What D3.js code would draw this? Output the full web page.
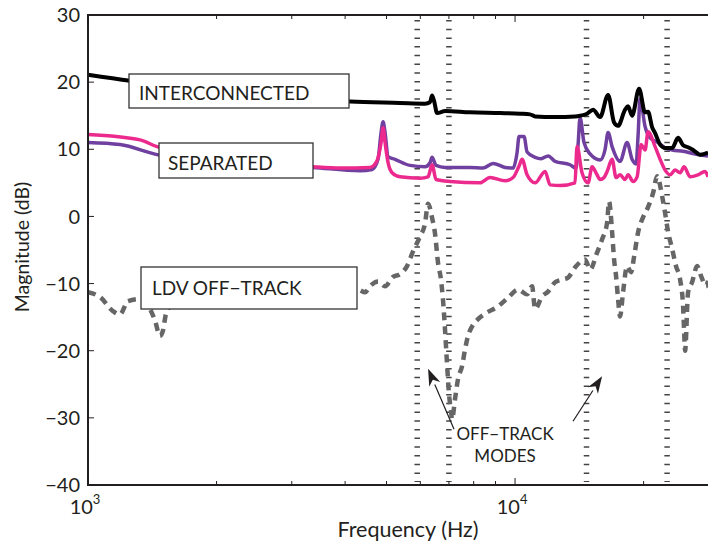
<!DOCTYPE html>
<html>
<head>
<meta charset="utf-8">
<title>Magnitude - frequency</title>
<script src="https://cdn.jsdelivr.net/npm/d3@7/dist/d3.min.js"></script>
<style>
    body { margin:0; background-color:#fff; }
    text { font-family: Lato, 'Open Sans', sans-serif; fill:#231f20; }
</style>
</head>
<body>
<svg id="svg" width="708" height="546"></svg>
<script>

// [frequency Hz, magnitude dB]
var interconnected = [
    [1000,21.1],[1254,20.2],[1829,19.0],[2668,17.9],[4108,17.1],[5379,16.9],[6156,16.8],[6322,17.0],
    [6392,18.0],[6462,17.2],[6567,15.4],[6857,15.7],[7845,15.5],[9223,15.4],[10273,15.3],[10842,15.2],
    [11140,14.9],[12410,14.8],[13816,14.9],[14198,15.0],[14746,15.3],[15230,15.9],[15817,14.8],[16513,18.1],
    [17056,14.0],[17427,13.5],[18097,15.9],[18391,16.4],[18793,15.0],[19517,19.0],[20156,15.5],[20486,15.6],
    [20932,13.3],[21277,12.4],[21861,10.7],[22458,10.2],[23320,10.2],[24085,11.7],[24744,10.6],[25420,10.3],
    [26120,9.9],[27130,9.2],[28310,9.5]
];
var separatedA = [
    [1000,11.0],[1188,10.7],[1451,9.2],[2151,8.0],[3365,7.3],[4335,6.8],[4627,7.0],[4777,8.5],[4856,12.5],
    [4909,14.1],[4961,12.5],[5043,8.9],[5236,8.5],[5678,7.6],[6156,7.4],[6322,8.0],[6392,8.8],[6531,7.6],
    [6857,7.3],[7845,7.3],[8416,7.2],[8881,7.9],[9475,7.3],[9893,7.2],[10108,9.5],[10218,11.9],[10498,11.9],
    [10669,9.6],[11140,8.8],[11506,8.6],[11949,9.0],[12410,8.2],[13451,7.7],[13892,7.2],[14040,10.5],
    [14198,14.7],[14503,11.0],[14983,9.3],[15817,8.4],[16250,10.0],[16513,12.5],[16874,10.4],[17616,8.2],
    [18294,11.0],[18793,8.5],[19205,7.8],[19410,12.0],[19622,17.5],[20156,13.4],[20716,11.7],[21627,11.0],
    [22458,10.2],[23320,9.9],[24744,9.7],[26400,9.3],[28310,9.0]
];
var separatedB = [
    [1000,12.2],[1324,11.4],[1451,10.4],[2151,8.8],[3365,7.4],[3893,7.2],[4575,7.3],[4751,8.3],[4856,11.0],
    [4909,13.2],[4961,11.0],[5043,8.0],[5152,6.5],[5379,5.9],[5991,5.7],[6256,5.9],[6392,7.7],[6531,5.5],
    [7043,5.2],[8279,5.0],[8740,5.8],[9475,5.3],[9893,5.8],[10218,7.5],[10385,8.5],[10669,6.2],[11140,5.0],
    [11757,6.7],[12078,4.7],[12748,4.6],[13816,5.0],[13966,10.4],[14350,6.5],[14825,5.0],[15147,7.4],
    [15560,6.2],[15817,5.5],[16160,5.8],[16427,6.7],[16874,8.5],[17240,5.8],[17616,6.2],[18097,5.5],
    [18391,6.2],[18897,5.2],[19310,5.9],[19733,10.7],[20156,9.9],[20486,12.6],[21277,10.4],[21861,8.5],
    [22458,6.9],[23070,6.2],[23700,6.9],[24350,6.5],[24880,7.4],[25700,5.9],[26830,6.2],[27860,6.7],[28310,5.9]
];
var ldvOffTrack = [
    [1000,-11.3],[1067,-12.0],[1144,-14.1],[1188,-14.6],[1241,-12.6],[1324,-12.3],[1397,-13.8],[1435,-15.5],
    [1474,-17.8],[1498,-17.0],[1523,-14.5],[1573,-13.2],[1829,-12.3],[2395,-12.0],[3137,-11.5],[3893,-11.0],
    [4289,-10.9],[4455,-11.3],[4575,-10.4],[4777,-9.7],[4961,-10.4],[5180,-9.0],[5379,-8.6],[5586,-7.4],
    [5769,-5.2],[5991,-3.0],[6156,-1.0],[6256,1.9],[6392,-0.2],[6496,-2.6],[6601,-6.9],[6710,-9.5],
    [6782,-12.5],[6857,-17.0],[6930,-22.0],[7005,-26.5],[7081,-29.0],[7120,-30.2],[7235,-27.2],[7353,-24.2],
    [7513,-22.3],[7636,-19.8],[7760,-17.8],[7930,-16.4],[8190,-15.3],[8600,-14.3],[9075,-13.5],[9630,-12.1],
    [10162,-10.9],[10669,-11.6],[10960,-10.4],[11140,-13.8],[11567,-11.9],[11949,-11.2],[12410,-9.8],
    [12885,-9.4],[13308,-9.1],[13816,-7.6],[14583,-6.4],[14983,-7.9],[15560,-5.4],[15990,-3.4],[16427,-0.9],
    [16600,2.2],[16874,-2.3],[17056,-6.4],[17240,-8.9],[17427,-12.3],[17616,-14.9],[17900,-11.3],[18294,-7.4],
    [18697,-8.3],[18998,-6.0],[19410,-2.4],[19946,-0.1],[20486,1.4],[21050,3.5],[21510,6.0],[22100,3.0],
    [22458,0.5],[22820,-2.3],[23320,-4.8],[23820,-7.4],[24350,-9.4],[24744,-13.4],[24880,-17.0],[25010,-20.0],
    [25420,-11.3],[25970,-9.8],[26690,-7.4],[27270,-8.9],[28010,-10.4],[28310,-9.6]
];
var modeLines = [5900, 7000, 14700, 22700];
var yTicks = [30, 20, 10, 0, -10, -20, -30, -40];
var xMajor = [1000, 10000];
var xMinor = [2000,3000,4000,5000,6000,7000,8000,9000,20000];

var x = d3.scaleLog().domain([1000, 28300]).range([88, 708]);
var y = d3.scaleLinear().domain([-40, 30]).range([485, 15]);

var svg = d3.select('#svg');

// mode markers
svg.selectAll('line.mode').data(modeLines).enter().append('line')
    .attr('class', 'mode')
    .attr('x1', function(d){ return x(d); }).attr('x2', function(d){ return x(d); })
    .attr('y1', 20).attr('y2', 482)
    .attr('stroke', '#444').attr('stroke-width', 5.5)
    .attr('stroke-dasharray', '1.5,7.2');

var line = d3.line()
    .curve(d3.curveMonotoneX)
    .x(function(d){ return x(d[0]); })
    .y(function(d){ return y(d[1]); });

svg.append('path').datum(ldvOffTrack).attr('d', line)
    .attr('fill', 'none').attr('stroke', '#666').attr('stroke-width', 4.5)
    .attr('stroke-dasharray', '8,6');
svg.append('path').datum(separatedA).attr('d', line)
    .attr('fill', 'none').attr('stroke', '#7040a0').attr('stroke-width', 3.5)
    .attr('stroke-linejoin', 'round');
svg.append('path').datum(separatedB).attr('d', line)
    .attr('fill', 'none').attr('stroke', '#ec2a8e').attr('stroke-width', 3.5)
    .attr('stroke-linejoin', 'round');
svg.append('path').datum(interconnected).attr('d', line)
    .attr('fill', 'none').attr('stroke', '#000').attr('stroke-width', 4)
    .attr('stroke-linejoin', 'round');

// frame
svg.append('path').attr('d', 'M708,15H88V485H708')
    .attr('fill', 'none').attr('stroke', '#231f20').attr('stroke-width', 2);

// y ticks
svg.selectAll('line.yt').data(yTicks).enter().append('line')
    .attr('x1', 88).attr('x2', 94)
    .attr('y1', function(d){ return y(d); }).attr('y2', function(d){ return y(d); })
    .attr('stroke', '#231f20').attr('stroke-width', 1);
svg.selectAll('text.yl').data(yTicks).enter().append('text')
    .attr('x', 80).attr('y', function(d){ return y(d); })
    .attr('dy', '0.36em').attr('text-anchor', 'end')
    .style('font-size', '20px')
    .text(function(d){ return d < 0 ? '\u2212' + (-d) : d; });

// x ticks, top and bottom
var xt = xMajor.concat(xMinor);
xt.forEach(function(d){
    var len = xMajor.indexOf(d) >= 0 ? 7 : 4;
    svg.append('line').attr('x1', x(d)).attr('x2', x(d)).attr('y1', 15).attr('y2', 15 + len)
        .attr('stroke', '#231f20').attr('stroke-width', 1);
    svg.append('line').attr('x1', x(d)).attr('x2', x(d)).attr('y1', 485).attr('y2', 485 - len)
        .attr('stroke', '#231f20').attr('stroke-width', 1);
});
svg.selectAll('text.xl').data(xMajor).enter().append('text')
    .attr('x', function(d){ return x(d) - 3; }).attr('y', 514)
    .attr('text-anchor', 'middle')
    .style('font-size', '20px')
    .text('10')
    .append('tspan').attr('dy', -10).style('font-size', '13px')
    .text(function(d){ return Math.round(Math.log10(d)); });

svg.append('text').attr('x', 408).attr('y', 537).attr('text-anchor', 'middle')
    .style('font-size', '21.5px').text('Frequency (Hz)');
svg.append('text').attr('transform', 'translate(29,247) rotate(-90)').attr('text-anchor', 'middle')
    .style('font-size', '19.5px').text('Magnitude (dB)');

// label boxes
var boxes = [
    {x:129, y:74, w:220, h:34, tx:139, ty:100, t:'INTERCONNECTED'},
    {x:159, y:143, w:154, h:35, tx:168, ty:170, t:'SEPARATED'},
    {x:141, y:267, w:216, h:42, tx:152, ty:295, t:'LDV OFF\u2212TRACK'}
];
boxes.forEach(function(b){
    svg.append('rect').attr('x', b.x).attr('y', b.y).attr('width', b.w).attr('height', b.h)
        .attr('fill', '#fff').attr('stroke', '#333').attr('stroke-width', 1.3);
    svg.append('text').attr('x', b.tx).attr('y', b.ty).style('font-size', '19px').text(b.t);
});

// off-track annotation
var arrows = [
    {from:[7196,-31.7], to:[6256,-22.7]},
    {from:[13670,-30.5], to:[15990,-23.8]}
];
arrows.forEach(function(a){
    var x1 = x(a.from[0]), y1 = y(a.from[1]), x2 = x(a.to[0]), y2 = y(a.to[1]);
    var ang = Math.atan2(y2 - y1, x2 - x1);
    var L = 17, W = 6;
    var bx = x2 - L * Math.cos(ang), by = y2 - L * Math.sin(ang);
    svg.append('line').attr('x1', x1).attr('y1', y1).attr('x2', bx).attr('y2', by)
        .attr('stroke', '#231f20').attr('stroke-width', 1.2);
    var p = [[x2, y2],
             [bx + W * Math.sin(ang), by - W * Math.cos(ang)],
             [x2 - (L - 5) * Math.cos(ang), y2 - (L - 5) * Math.sin(ang)],
             [bx - W * Math.sin(ang), by + W * Math.cos(ang)]];
    svg.append('path').attr('d', 'M' + p.join('L') + 'Z').attr('fill', '#231f20');
});
svg.append('text').attr('x', x(9475)).attr('y', y(-33.3)).attr('text-anchor', 'middle')
    .style('font-size', '17px').text('OFF\u2212TRACK');
svg.append('text').attr('x', x(9475)).attr('y', y(-36.6)).attr('text-anchor', 'middle')
    .style('font-size', '17px').text('MODES');

</script>
</body>
</html>
